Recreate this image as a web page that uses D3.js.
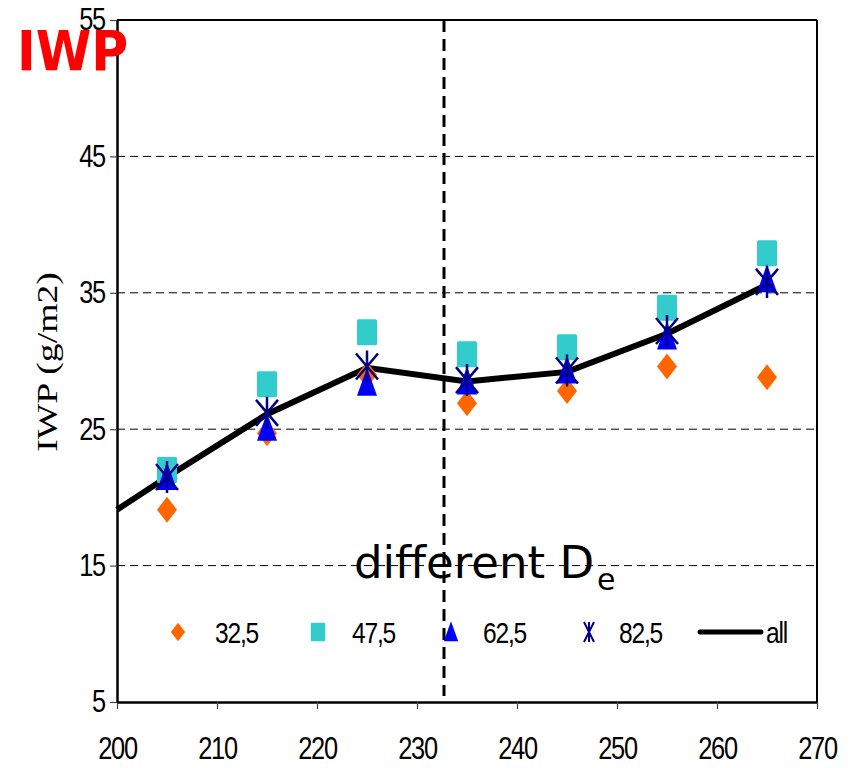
<!DOCTYPE html>
<html>
<head>
<meta charset="utf-8">
<script src="https://cdn.jsdelivr.net/npm/d3@7"></script>
<style>
  body { margin: 0; background: #fff; }
  .tick text { font-family: "Liberation Sans", Arial, sans-serif; }
</style>
</head>
<body>
<div id="chart"></div>
<script>
// data
var xVals = [205, 215, 225, 235, 245, 255, 265];
var s325 = [19.1, 24.7, 29.0, 26.9, 27.8, 29.6, 28.8];
var s475 = [22.0, 28.3, 32.1, 30.5, 31.0, 33.9, 37.9];
var s625 = [21.5, 25.1, 28.4, 28.5, 29.3, 31.8, 36.0];
var s825 = [21.5, 26.2, 29.6, 28.6, 29.3, 32.2, 35.8];
var allX = [200, 205, 215, 225, 235, 245, 255, 265];
var allY = [19.1, 21.5, 26.1, 29.5, 28.5, 29.2, 32.0, 35.6];
var xTicks = [200, 210, 220, 230, 240, 250, 260, 270];
var yTicks = [5, 15, 25, 35, 45, 55];
var gridVals = [15, 25, 35, 45];
var splitX = 232.7;
var legendNames = ["32,5", "47,5", "62,5", "82,5", "all"];

// set width and height
var svgWidth = 853;
var svgHeight = 768;
var margin = { top: 20, left: 117, right: 36, bottom: 66 };
var width = svgWidth - margin.left - margin.right;
var height = svgHeight - margin.top - margin.bottom;

// digits in the original look tall and squeezed
var squeeze = 0.82;

var svg = d3.select("#chart").append("svg")
    .attr("width", svgWidth)
    .attr("height", svgHeight);

var chartGroup = svg.append("g")
    .attr("transform", `translate(${margin.left}, ${margin.top})`);

var x = d3.scaleLinear().domain([200, 270]).range([0, width]);
var y = d3.scaleLinear().domain([5, 55]).range([height, 0]);

// dashed grid
chartGroup.selectAll(".grid")
    .data(gridVals)
    .enter()
    .append("line")
    .attr("x1", 0)
    .attr("x2", width)
    .attr("y1", d => y(d))
    .attr("y2", d => y(d))
    .attr("stroke", "#000")
    .attr("stroke-width", 1)
    .attr("stroke-dasharray", "8,5");

// frame top and right
chartGroup.append("line")
    .attr("x1", 0).attr("x2", width).attr("y1", 0).attr("y2", 0)
    .attr("stroke", "#000").attr("stroke-width", 2);
chartGroup.append("line")
    .attr("x1", width).attr("x2", width).attr("y1", 0).attr("y2", height)
    .attr("stroke", "#000").attr("stroke-width", 2);

// vertical dashed split line
chartGroup.append("line")
    .attr("x1", x(splitX)).attr("x2", x(splitX))
    .attr("y1", 0).attr("y2", height - 6)
    .attr("stroke", "#000")
    .attr("stroke-width", 3)
    .attr("stroke-dasharray", "12,7");

// axes
var bottomAxis = d3.axisBottom(x).tickValues(xTicks).tickSizeInner(7).tickSizeOuter(0).tickPadding(28);
var leftAxis = d3.axisLeft(y).tickValues(yTicks).tickSizeInner(7).tickSizeOuter(0).tickPadding(4);

var gx = chartGroup.append("g")
    .attr("transform", `translate(0, ${height})`)
    .call(bottomAxis);
var gy = chartGroup.append("g")
    .call(leftAxis);

[gx, gy].forEach(function(g) {
  g.select(".domain").attr("stroke-width", 2.5);
  g.selectAll(".tick line").attr("stroke-width", 1.2).attr("stroke", "#444");
  g.selectAll(".tick text")
      .attr("fill", "#000")
      .style("font-size", "31px")
      .style("letter-spacing", "-1.5px")
      .attr("transform", `scale(${squeeze},1)`);
});
gy.selectAll(".tick text").attr("x", -12 / squeeze);

// line "all"
var line = d3.line()
    .x((d, i) => x(allX[i]))
    .y(d => y(d));

chartGroup.append("path")
    .datum(allY)
    .attr("d", line)
    .attr("fill", "none")
    .attr("stroke", "#000")
    .attr("stroke-width", 6);

// marker shapes
function diamond(g, cx, cy) {
  g.append("path")
      .attr("d", `M${cx},${cy - 13}L${cx + 10},${cy}L${cx},${cy + 13}L${cx - 10},${cy}Z`)
      .attr("fill", "#ff6600");
}
function square(g, cx, cy) {
  g.append("rect")
      .attr("x", cx - 10).attr("y", cy - 13)
      .attr("width", 20).attr("height", 26)
      .attr("rx", 1.5)
      .attr("fill", "#33cccc");
}
function triangle(g, cx, cy) {
  g.append("path")
      .attr("d", `M${cx},${cy - 15}L${cx + 10},${cy + 13}L${cx - 10},${cy + 13}Z`)
      .attr("fill", "#0000ff");
}
function star(g, cx, cy) {
  g.append("path")
      .attr("d", `M${cx},${cy - 16}L${cx},${cy + 16}M${cx - 11},${cy - 13}L${cx + 11},${cy + 13}M${cx + 11},${cy - 13}L${cx - 11},${cy + 13}`)
      .attr("stroke", "#000080")
      .attr("stroke-width", 2.5)
      .attr("fill", "none");
}

var seriesList = [
  { vals: s325, draw: diamond },
  { vals: s475, draw: square },
  { vals: s625, draw: triangle },
  { vals: s825, draw: star }
];

seriesList.forEach(function(s) {
  var g = chartGroup.append("g");
  s.vals.forEach(function(v, i) {
    s.draw(g, x(xVals[i]), y(v));
  });
});

// legend
var legend = chartGroup.append("g")
    .attr("transform", `translate(0, ${632 - margin.top})`);
var legendMarkX = [61, 201, 334, 472];
var legendTextX = [98, 235, 366, 502, 649];
seriesList.forEach(function(s, i) {
  var sg = legend.append("g");
  if (i === 3) {
    sg.append("path")
        .attr("d", `M${legendMarkX[i]},-10L${legendMarkX[i]},10M${legendMarkX[i] - 5},-10L${legendMarkX[i] + 5},10M${legendMarkX[i] + 5},-10L${legendMarkX[i] - 5},10`)
        .attr("stroke", "#000080").attr("stroke-width", 2).attr("fill", "none");
  } else {
    sg.attr("transform", `translate(${legendMarkX[i]},0) scale(0.72) translate(${-legendMarkX[i]},0)`);
    s.draw(sg, legendMarkX[i], 0);
  }
});
legend.append("line")
    .attr("x1", 583).attr("x2", 644).attr("y1", 0).attr("y2", 0)
    .attr("stroke", "#000").attr("stroke-width", 5)
    .attr("stroke-linecap", "round");
legend.selectAll(".legText")
    .data(legendNames)
    .enter()
    .append("text")
    .attr("transform", (d, i) => `translate(${legendTextX[i]}, 11) scale(${squeeze},1)`)
    .style("font-family", "'Liberation Sans', Arial, sans-serif")
    .style("font-size", "30px")
    .style("letter-spacing", "-1.5px")
    .text(d => d);

// annotation text
var note = chartGroup.append("text")
    .attr("x", 237)
    .attr("y", 578 - margin.top)
    .style("font-family", "'DejaVu Sans', sans-serif")
    .style("font-size", "45px")
    .attr("fill", "#000");
note.append("tspan").text("different D");
note.append("tspan")
    .attr("dx", 3)
    .attr("dy", 12)
    .style("font-size", "30px")
    .text("e");

// y axis title, stretched along its length like the original
svg.append("text")
    .attr("transform", "translate(57, 362) rotate(-90) scale(1.3,1)")
    .attr("text-anchor", "middle")
    .style("font-family", "'Liberation Serif', 'Times New Roman', serif")
    .style("font-size", "29px")
    .text("IWP (g/m2)");

// red corner label
svg.append("text")
    .attr("transform", "translate(17, 70) scale(0.9,1)")
    .style("font-family", "'DejaVu Sans', sans-serif")
    .style("font-weight", "bold")
    .style("font-size", "56px")
    .attr("fill", "#ff0000")
    .text("IWP");
</script>
</body>
</html>
